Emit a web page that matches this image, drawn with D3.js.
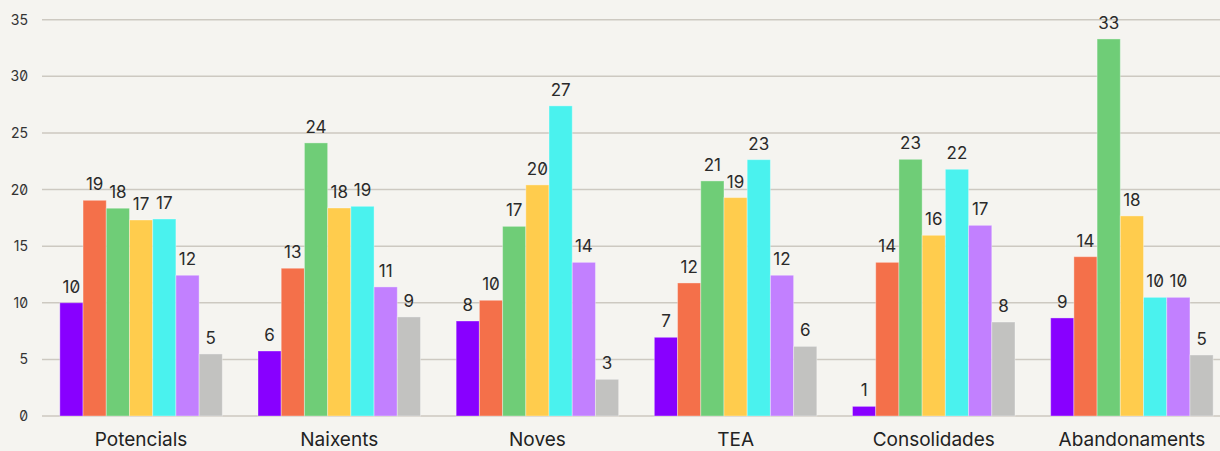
<!DOCTYPE html>
<html>
<head>
<meta charset="utf-8">
<script src="https://cdn.jsdelivr.net/npm/d3@7"></script>
<style>
  html, body { margin: 0; padding: 0; background: #f5f4f0; }
  svg { display: block; font-family: Inter, "Noto Sans", sans-serif; font-feature-settings: "zero" 1; }
</style>
</head>
<body>
<svg id="chart" width="1220" height="451"></svg>
<script>
// Categories along the x axis
const categories = ["Potencials", "Naixents", "Noves", "TEA", "Consolidades", "Abandonaments"];

// One array per series, one value per category
const serie1 = [10.0, 5.74, 8.39, 6.95, 0.85, 8.66];
const serie2 = [19.05, 13.05, 10.22, 11.75, 13.57, 14.07];
const serie3 = [18.35, 24.12, 16.75, 20.76, 22.67, 33.30];
const serie4 = [17.31, 18.37, 20.41, 19.29, 15.96, 17.67];
const serie5 = [17.40, 18.52, 27.39, 22.64, 21.79, 10.48];
const serie6 = [12.43, 11.40, 13.57, 12.43, 16.84, 10.48];
const serie7 = [5.48, 8.75, 3.24, 6.15, 8.30, 5.39];

const seriesNames = ["s1", "s2", "s3", "s4", "s5", "s6", "s7"];
const seriesValues = [serie1, serie2, serie3, serie4, serie5, serie6, serie7];
const seriesColors = ["#8800ff", "#f4704a", "#6fcd77", "#ffcc4d", "#4af2ee", "#c280ff", "#c2c2c0"];

// Y axis ticks
const yTicks = [0, 5, 10, 15, 20, 25, 30, 35];

const svg = d3.select("#chart");
const W = 1220, H = 451;
const plotLeft = 42, plotRight = 1231, plotTop = 19.7, plotBottom = 416;

const x0 = d3.scaleBand().domain(categories).range([plotLeft, plotRight]).paddingInner(0.18).paddingOuter(0.09);
const x1 = d3.scaleBand().domain(seriesNames).range([0, x0.bandwidth()]).padding(0);
const y = d3.scaleLinear().domain([0, 35]).range([plotBottom, plotTop]);

// Horizontal gridlines
svg.append("g")
  .selectAll("line")
  .data(yTicks)
  .join("line")
  .attr("x1", plotLeft).attr("x2", W)
  .attr("y1", d => y(d)).attr("y2", d => y(d))
  .attr("stroke", "#cdc9c1")
  .attr("stroke-width", 1.5);

// Y axis labels
const yAxis = d3.axisLeft(y).tickValues(yTicks).tickSize(0).tickPadding(14);
const gy = svg.append("g").attr("transform", `translate(${plotLeft},0)`).call(yAxis);
gy.select(".domain").remove();
gy.selectAll("text")
  .attr("fill", "#333")
  .style("font-size", "14px")
  .style("font-family", "Inter, 'Noto Sans', sans-serif")
  .style("font-feature-settings", '"zero" 1');

// Flatten into bar records
const bars = [];
categories.forEach((c, ci) => {
  seriesNames.forEach((s, si) => {
    bars.push({ cat: c, series: s, value: seriesValues[si][ci], color: seriesColors[si] });
  });
});

// Bars
svg.append("g")
  .selectAll("rect")
  .data(bars)
  .join("rect")
  .attr("x", d => x0(d.cat) + x1(d.series))
  .attr("y", d => y(d.value))
  .attr("width", x1.bandwidth())
  .attr("height", d => y(0) - y(d.value))
  .attr("fill", d => d.color)
  .attr("stroke", "rgba(255,255,255,0.35)")
  .attr("stroke-width", 1);

// Value labels above bars
svg.append("g")
  .selectAll("text")
  .data(bars)
  .join("text")
  .attr("x", d => x0(d.cat) + x1(d.series) + x1.bandwidth() / 2)
  .attr("y", d => y(d.value) - 10)
  .attr("text-anchor", "middle")
  .attr("fill", "#2a2a2a")
  .style("font-size", "17px")
  .text(d => d3.format(".0f")(d.value));

// Category labels
const xAxis = d3.axisBottom(x0).tickSize(0).tickPadding(17);
const gx = svg.append("g").attr("transform", `translate(0,${plotBottom})`).call(xAxis);
gx.select(".domain").remove();
gx.selectAll("text")
  .attr("fill", "#222")
  .style("font-size", "19px")
  .style("font-family", "Inter, 'Noto Sans', sans-serif");
</script>
</body>
</html>
